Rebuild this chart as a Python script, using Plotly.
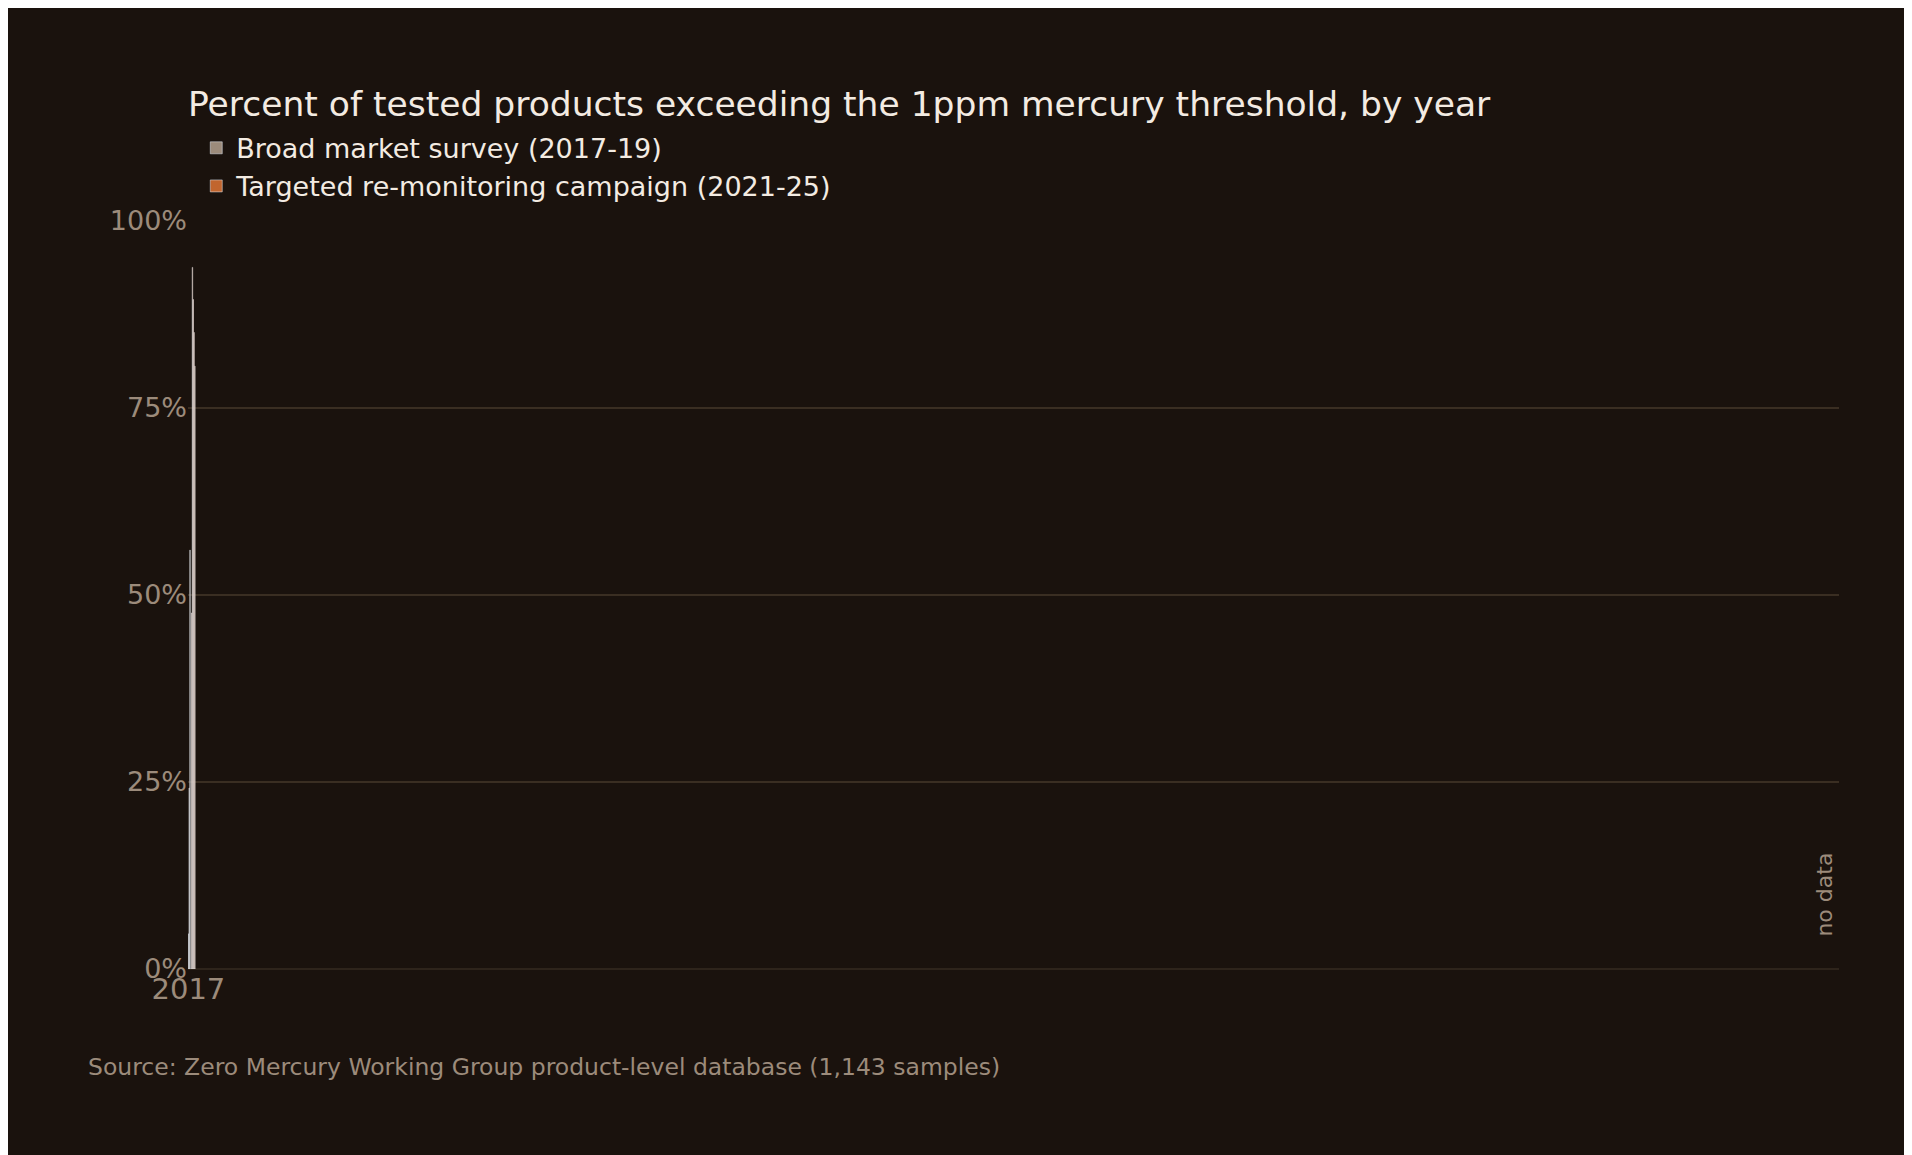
import plotly.graph_objects as go

years = ["2017", "2018", "2019", "2020", "2021", "2022", "2023", "2024", "2025"]
broad_years = ["2017", "2018", "2019"]
broad_vals = [0.047, 0.242, 0.560]
target_years = ["2021", "2022", "2023", "2024", "2025"]
target_vals = [0.476, 0.938, 0.895, 0.851, 0.806]

bg = "#1a120d"
font = "DejaVu Sans"

fig = go.Figure()
fig.add_trace(go.Bar(x=broad_years, y=broad_vals, name="Broad market survey (2017-19)",
                     marker_color="#9c8b7b", text=[f"{v*100:.1f}%" for v in broad_vals],
                     textposition="outside", textfont=dict(size=25, color="#f3ebe2"),
                     cliponaxis=False))
fig.add_trace(go.Bar(x=target_years, y=target_vals, name="Targeted re-monitoring campaign (2021-25)",
                     marker_color="#c1652e", text=[f"{v*100:.1f}%" for v in target_vals],
                     textposition="outside", textfont=dict(size=25, color="#f3ebe2"),
                     cliponaxis=False))

fig.add_annotation(x="2020", y=0.04, text="no data", textangle=-90, showarrow=False,
                   yanchor="bottom", font=dict(size=22, color="#9c8b7b"))
fig.add_annotation(x=-0.062, xref="paper", y=-0.11, yref="paper", yanchor="top", xanchor="left",
                   text="Source: Zero Mercury Working Group product-level database (1,143 samples)",
                   showarrow=False, font=dict(size=23.5, color="#9c8b7b"))

fig.update_layout(
    width=1912, height=1155, paper_bgcolor=bg, plot_bgcolor=bg,
    font=dict(family=font, color="#f3ebe2"),
    title=dict(text="Percent of tested products exceeding the 1ppm mercury threshold, by year",
               x=180/1912, xanchor="left", y=1-96/1155, yanchor="middle",
               font=dict(size=34.5, color="#f3ebe2")),
    margin=dict(l=180, r=81, t=213, b=194),
    barmode="overlay", bargap=0.385,
    legend=dict(x=0.005, y=1.13, xanchor="left", yanchor="top", bgcolor="rgba(0,0,0,0)",
                font=dict(size=27, color="#f3ebe2"), tracegroupgap=4),
    xaxis=dict(type="category", categoryorder="array", categoryarray=years,
               tickfont=dict(size=29, color="#9c8b7b"),
               showgrid=False, showline=False, ticks=""),
    yaxis=dict(range=[0, 1.0], tickvals=[0, 0.25, 0.5, 0.75, 1.0], tickformat=".0%",
               tickfont=dict(size=27, color="#9c8b7b"), gridcolor="#3a2e22", gridwidth=1.5,
               zeroline=True, zerolinecolor="#2e241b", ticksuffix=" "),
)

fig.write_html("out.html")
